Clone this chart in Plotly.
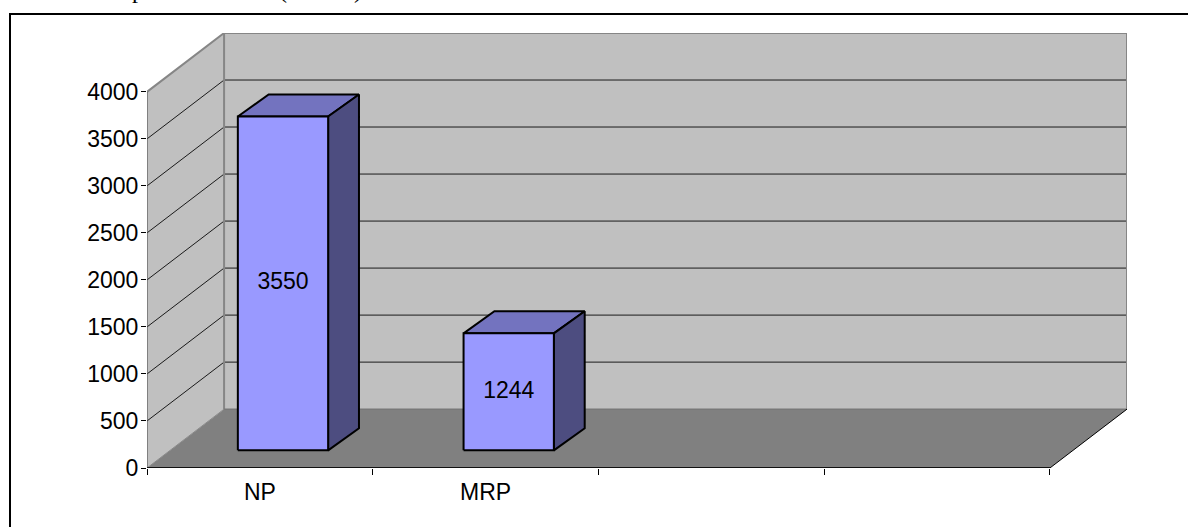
import plotly.graph_objects as go

# ---- data ----
categories = ["NP", "MRP", "", ""]
values = [3550, 1244]
value_labels = ["3550", "1244"]
y_ticks = [0, 500, 1000, 1500, 2000, 2500, 3000, 3500, 4000]
clipped_title_glyphs = ["p", "(", ")"]

# ---- projection ----
W, H = 1188, 527
L, R, T, B = 147, 1127, 33, 468      # plot area in page pixels
cat_px = (1049 - 147) / 4
val_px = (468 - 91) / 4000
DX = 77 / cat_px                     # depth of floor in category units
DY = 59 / val_px                     # depth of floor in value units
N = len(categories)
YMAX = y_ticks[-1]
BAR_W = 0.40                         # 150 % gap
D0 = 0.30                            # bar front as fraction of floor depth
DEPTH_X, DEPTH_Y = 0.40, 0.375       # bar depth as fraction of floor depth

WALL, FLOOR = "#C0C0C0", "#808080"
FRONT, TOP, SIDE = "#9999FF", "#7373BF", "#4D4D80"
GRAY, DARK = "#868686", "#000000"
FS = 23

fig = go.Figure()


def poly(xs, ys, fill, line=None, width=0):
    fig.add_trace(go.Scatter(
        x=list(xs) + [xs[0]], y=list(ys) + [ys[0]], mode="lines", fill="toself",
        fillcolor=fill, line=dict(color=line or fill, width=width if line else 0),
        hoverinfo="skip", showlegend=False))


def seg(xs, ys, color, width):
    fig.add_trace(go.Scatter(x=xs, y=ys, mode="lines",
                             line=dict(color=color, width=width),
                             hoverinfo="skip", showlegend=False))


# walls and floor
poly([0, DX, DX, 0], [0, DY, YMAX + DY, YMAX], WALL)
poly([DX, N + DX, N + DX, DX], [DY, DY, YMAX + DY, YMAX + DY], WALL)
poly([0, N, N + DX, DX], [0, 0, DY, DY], FLOOR)

# gridlines on side wall and back wall
for v in y_ticks[1:-1]:
    seg([0, DX, N + DX], [v, v + DY, v + DY], "#1a1a1a", 1)

# wall borders
seg([0, DX, N + DX, N + DX], [YMAX, YMAX + DY, YMAX + DY, DY], GRAY, 2)
seg([DX, DX], [DY, YMAX + DY], GRAY, 2)
seg([DX, N + DX], [DY, DY], "#787878", 1.5)
seg([0, DX], [0, DY], "#8a8a8a", 1)
seg([N, N + DX], [0, DY], DARK, 1)
seg([0, 0], [0, YMAX], "#555555", 1.2)
seg([0, N], [0, 0], "#111111", 2)

# bars
for i, v in enumerate(values):
    x0 = i + 0.5 - BAR_W / 2 + D0 * DX
    x1 = x0 + BAR_W
    y0 = D0 * DY
    ox = DEPTH_X * DX
    oy = DEPTH_Y * DY
    poly([x0, x1, x1 + ox, x0 + ox], [y0 + v, y0 + v, y0 + v + oy, y0 + v + oy], TOP, DARK, 2)
    poly([x1, x1 + ox, x1 + ox, x1], [y0, y0 + oy, y0 + v + oy, y0 + v], SIDE, DARK, 2)
    poly([x0, x1, x1, x0], [y0, y0, y0 + v, y0 + v], FRONT, DARK, 2)
    fig.add_trace(go.Scatter(
        x=[(x0 + x1) / 2], y=[y0 + v / 2], mode="text", text=[value_labels[i]],
        textposition="middle center",
        textfont=dict(family="Liberation Sans", size=FS, color="#000000"),
        hoverinfo="skip", showlegend=False))


def px_x(p):
    return (p - L) / (R - L)


def px_y(p):
    return 1 - (p - T) / (B - T)


glyph_px = [138, 283, 358]
annotations = [
    dict(text=g, xref="paper", yref="paper", x=px_x(p), y=px_y(4), xanchor="center",
         yanchor="bottom", showarrow=False, borderpad=0,
         font=dict(family="Liberation Serif", size=24, color="#000000"))
    for g, p in zip(clipped_title_glyphs, glyph_px)
]

fig.update_layout(
    width=W, height=H, autosize=False,
    margin=dict(l=L, r=W - R, t=T, b=H - B, pad=0),
    paper_bgcolor="#FFFFFF", plot_bgcolor="#FFFFFF",
    showlegend=False,
    font=dict(family="Liberation Sans", size=FS, color="#000000"),
    annotations=annotations,
    xaxis=dict(
        range=[0, N + DX], showgrid=False, zeroline=False, showline=False,
        tickmode="array", tickvals=[i + 0.5 for i in range(N)], ticktext=categories,
        ticks="", tickfont=dict(size=FS), tickangle=0, ticklabelstandoff=8,
        minor=dict(tickmode="array", tickvals=list(range(N + 1)), ticks="outside",
                   ticklen=6, tickwidth=1, tickcolor="#000000", showgrid=False),
    ),
    yaxis=dict(
        range=[0, YMAX + DY], showgrid=False, zeroline=False, showline=False,
        tickmode="array", tickvals=y_ticks, ticktext=[str(t) for t in y_ticks],
        ticks="outside", ticklen=5, tickwidth=1, tickcolor="#000000",
        tickfont=dict(size=FS), ticklabelstandoff=-2,
    ),
    shapes=[
        dict(type="line", xref="paper", yref="paper", x0=px_x(9), x1=px_x(W),
             y0=px_y(14), y1=px_y(14), line=dict(color="#000000", width=2)),
        dict(type="line", xref="paper", yref="paper", x0=px_x(10), x1=px_x(10),
             y0=px_y(13), y1=px_y(H), line=dict(color="#000000", width=2)),
    ],
)

fig.write_html("out.html", config={"displayModeBar": False},
               post_script="document.body.style.margin='0';")
